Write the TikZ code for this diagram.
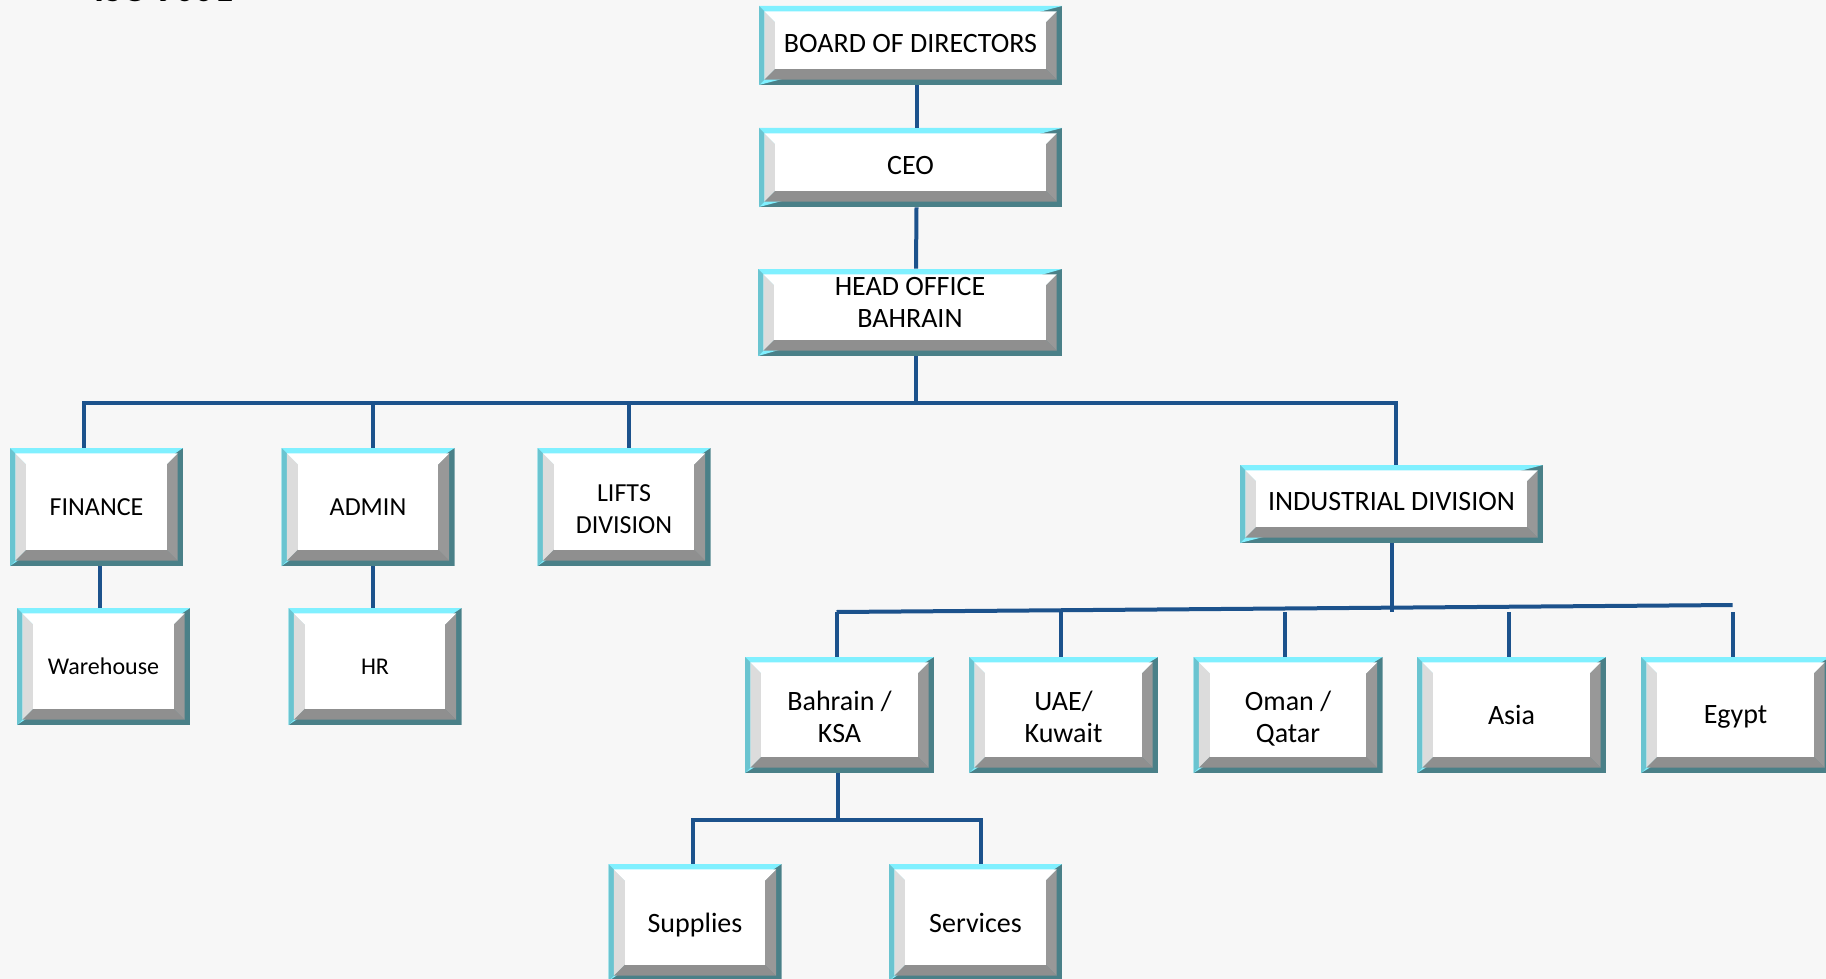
\documentclass[tikz,border=0pt]{standalone}
\usepackage{fontspec}
\setmainfont{Carlito}
\usepackage{xcolor}
\usetikzlibrary{calc}

\definecolor{EdgeLight}{RGB}{128,240,255}
\definecolor{EdgeLeft}{RGB}{106,196,208}
\definecolor{EdgeDark}{RGB}{74,128,136}
\definecolor{BevelLeft}{RGB}{220,220,220}
\definecolor{BevelBottom}{RGB}{143,143,143}
\definecolor{BevelRight}{RGB}{152,152,152}
\definecolor{LinkBlue}{RGB}{28,82,140}
\definecolor{PaperGray}{RGB}{247,247,247}

\tikzset{
  bevel/.style={rectangle, inner sep=0pt, fill=white,
    font=\fontsize{14pt}{16pt}\selectfont,
    path picture={
      \coordinate (bsw) at (path picture bounding box.south west);
      \coordinate (bne) at (path picture bounding box.north east);
      \coordinate (isw) at ($(bsw)+(2.7pt,2.7pt)$);
      \coordinate (ine) at ($(bne)-(2.7pt,2.7pt)$);
      \coordinate (fsw) at ($(isw)+(5.5pt,5.5pt)$);
      \coordinate (fne) at ($(ine)-(5.5pt,5.5pt)$);
      \fill[EdgeDark] (bsw) rectangle (bne);
      \fill[EdgeLight] (bsw) |- (bne) -- cycle;
      \fill[EdgeLeft] (bsw) -- (bsw |- bne) -- (isw |- ine) -- (isw) -- cycle;
      \fill[BevelLeft] (isw) -- (isw |- ine) -- (fsw |- fne) -- (fsw) -- cycle;
      \fill[BevelBottom] (isw) -- (fsw) -- (fne |- fsw) -- (ine |- isw) -- cycle;
      \fill[BevelRight] (ine |- isw) -- (fne |- fsw) -- (fne) -- (ine) -- cycle;
      \fill[white] (isw |- ine) -- (ine) -- (fne) -- (fsw |- fne) -- cycle;
      \fill[white] (fsw) rectangle (fne);
    }},
  topbox/.style={bevel, minimum width=151.5pt, minimum height=39.5pt,
    text height=9.6pt, text depth=3pt},
  deptbox/.style={bevel, minimum width=86.5pt, minimum height=59pt,
    font=\fontsize{13pt}{16pt}\selectfont},
  subbox/.style={bevel, minimum width=86.5pt, minimum height=58.5pt,
    font=\fontsize{12pt}{14pt}\selectfont},
  regionbox/.style={bevel, minimum width=94.5pt, minimum height=58pt},
  unitbox/.style={bevel, minimum width=86.5pt, minimum height=58.5pt,
    text height=9.5pt, text depth=0pt},
  link/.style={draw=LinkBlue, line width=2pt}
}

\begin{document}
\begin{tikzpicture}[x=0.5pt, y=-0.5pt]
      \fill[PaperGray] (0,0) rectangle (1826,979);
      \useasboundingbox (0,0) rectangle (1826,979);

      \node (iso) [anchor=base west, font=\bfseries\fontsize{19pt}{20pt}\selectfont] at (87,2) {ISO 9001};

      \node (bod) [topbox] at (910.5, 45.5) {BOARD OF DIRECTORS};
      \node (ceo) [topbox] at (910.5, 167.5) {CEO};
      \node (hq) [topbox, minimum width=152pt, minimum height=43.5pt,
        text height=0pt, text depth=0pt] at (910, 312.5) {
        \raisebox{0.3pt}[0pt][0pt]{\begin{tabular}{c}
          HEAD OFFICE \\
          BAHRAIN
        \end{tabular}}
      };

      \node (fin) [deptbox] at (96.5, 507) {FINANCE};
      \node (adm) [deptbox] at (368, 507) {ADMIN};
      \node (lift) [deptbox] at (624, 507) {
        \raisebox{-5pt}[0pt][0pt]{\begin{tabular}{c}
          LIFTS \\
          DIVISION
        \end{tabular}}
      };
      \node (ind) [topbox, minimum height=39pt] at (1391.5, 504) {INDUSTRIAL DIVISION};

      \node (wh) [subbox] at (103.5, 666.5) {Warehouse};
      \node (hr) [subbox] at (375, 666.5) {HR};

      \node (bah) [regionbox] at (839.5, 715) {
        \raisebox{-6pt}[0pt][0pt]{\begin{tabular}{c}
          Bahrain / \\
          KSA
        \end{tabular}}
      };
      \node (uae) [regionbox] at (1063.5, 715) {
        \raisebox{-6pt}[0pt][0pt]{\begin{tabular}{c}
          UAE/ \\
          Kuwait
        \end{tabular}}
      };
      \node (omn) [regionbox] at (1288, 715) {
        \raisebox{-6pt}[0pt][0pt]{\begin{tabular}{c}
          Oman / \\
          Qatar
        \end{tabular}}
      };
      \node (asia) [regionbox] at (1511.5, 715) {Asia};
      \node (egy) [regionbox, text depth=0pt] at (1735.5, 715) {Egypt};

      \node (sup) [unitbox] at (695, 922.5) {Supplies};
      \node (svc) [unitbox] at (975.5, 922.5) {Services};

      \coordinate (hqbus) at (0, 403);
      \coordinate (rbusl) at (0, 612);
      \coordinate (rbusr) at (0, 605);
      \coordinate (kbus) at (0, 820);

      \draw[link] ([xshift=3pt]bod.south) -- ([xshift=3pt]ceo.north);
      \draw[link] ([xshift=3pt]ceo.south) -- ([xshift=3pt]hq.north);
      \draw[link] ([xshift=3pt]hq.south) -- ([xshift=3pt]hq.south |- hqbus);
      \draw[link] ([xshift=-6.25pt]fin.north) -- ([xshift=-6.25pt]fin.north |- hqbus)
        -- ([xshift=2.3pt]ind.north |- hqbus) -- ([xshift=2.3pt]ind.north);
      \foreach \n in {adm, lift}
        \draw[link] ([xshift=2.3pt]\n.north) -- ([xshift=2.3pt]\n.north |- hqbus);
      \draw[link] ([xshift=1.7pt]fin.south) -- ([xshift=1.7pt]fin.south |- wh.north);
      \draw[link] ([xshift=2.3pt]adm.south) -- ([xshift=2.3pt]adm.south |- hr.north);

      \draw[link] (ind.south) -- (ind.south |- rbusl);
      \draw[link] ([xshift=-1.5pt]bah.north |- rbusl) -- ([xshift=-1.5pt]egy.north |- rbusr);
      \foreach \n in {bah, uae, omn, asia, egy}
        \draw[link] ([xshift=-1.5pt]\n.north) -- ([xshift=-1.5pt]\n.north |- rbusl);

      \draw[link] ([xshift=-1pt]bah.south) -- ([xshift=-1pt]bah.south |- kbus);
      \draw[link] ([xshift=-1pt]sup.north) -- ([xshift=-1pt]sup.north |- kbus)
        -- ([xshift=2.8pt]svc.north |- kbus) -- ([xshift=2.8pt]svc.north);
\end{tikzpicture}
\end{document}
